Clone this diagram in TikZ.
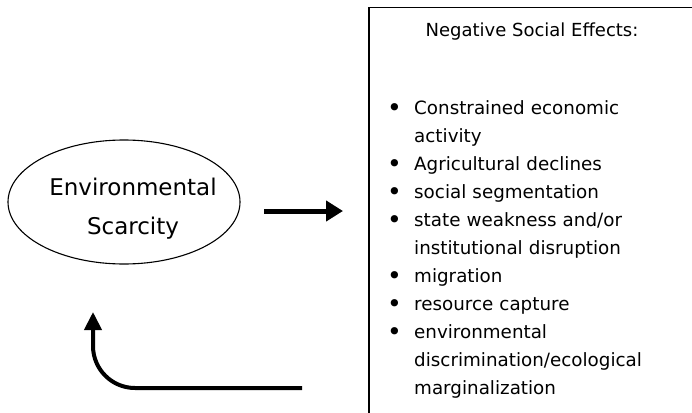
\documentclass[tikz,border=0pt]{standalone}
\usepackage{fontspec}
\setmainfont{DejaVu Sans}
\usetikzlibrary{positioning,shapes.geometric,arrows.meta}
\tikzset{
  cause/.style={ellipse, draw=black, line width=1.1pt, minimum width=232pt,
    minimum height=124pt},
  causetext/.style={align=center, font=\fontsize{23}{39}\selectfont},
  effectbox/.style={draw=black, line width=1.5pt, anchor=north west,
    minimum width=340pt, minimum height=420pt},
  heading/.style={font=\fontsize{18}{21}\selectfont},
  effectlist/.style={anchor=north west, inner sep=0pt, text width=290pt,
    font=\fontsize{18.3}{28}\selectfont},
  flow/.style={line width=5pt, -{Triangle[length=17pt,width=20pt]}},
  feedback/.style={line width=4pt, rounded corners=42pt,
    -{Triangle[length=18pt,width=17pt]}}
}
\newcommand{\effect}[1]{\hangindent=27pt\hangafter=1\noindent
  \makebox[27pt][l]{\raisebox{-2.5pt}{\fontsize{25}{0}\selectfont\textbullet}}#1\par}

\begin{document}
\begin{tikzpicture}[x=1pt, y=-1pt]
    \useasboundingbox[fill=white] (0,0) rectangle (692,412);
    \clip (0,0) rectangle (692,412);
    %
    \node[cause] (scarcity) at (124,202) {};
    \node[causetext] (scarcitytext) at ([xshift=9pt,yshift=-7pt]scarcity.center)
      {Environmental\\Scarcity};
    \node[effectbox] (effects) at (368,7) {};
    \node[heading] (title) at (532,32) {Negative Social Effects:};
    \node[effectlist] (list) at (387,100) {\raggedright
      \effect{Constrained economic\newline activity}
      \effect{Agricultural declines}
      \effect{social segmentation}
      \effect{state weakness and/or\newline institutional disruption}
      \effect{migration}
      \effect{resource capture}
      \effect{environmental\newline discrimination/ecological\newline marginalization}};
    %
    \coordinate (flowstart) at (264,211);
    \coordinate (flowend) at (343,211);
    \draw[flow] (flowstart) -- (flowend);
    % back to the scarcity
    \coordinate (loopstart) at (302,388);
    \coordinate (loopend) at (93,312);
    \draw[feedback] (loopstart) -| (loopend);
\end{tikzpicture}
\end{document}
